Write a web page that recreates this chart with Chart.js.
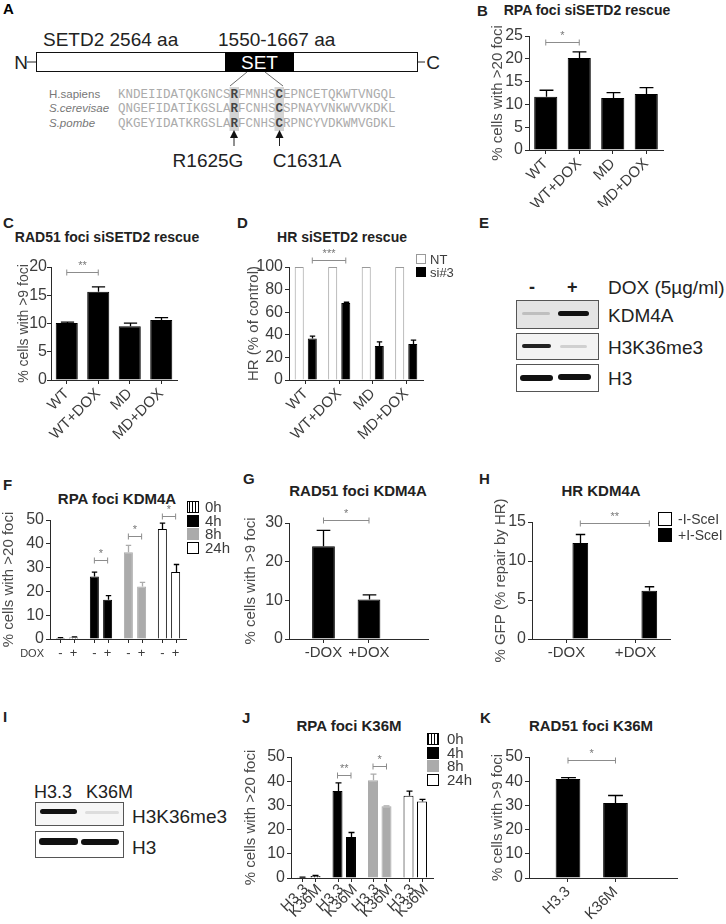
<!DOCTYPE html>
<html>
<head>
<meta charset="utf-8">
<script src="https://cdn.jsdelivr.net/npm/chart.js@4.4.1/dist/chart.umd.min.js"></script>
<style>
html, body { margin: 0; padding: 0; background: #fff; }
#fig { position: relative; width: 726px; height: 924px; overflow: hidden; font-family: "Liberation Sans", Arial, sans-serif; color: #222; }
.lbl { position: absolute; font-weight: bold; font-size: 15px; line-height: 1; transform: translateY(-50%); }
.ttl { position: absolute; font-weight: bold; font-size: 14px; line-height: 1; white-space: nowrap; transform: translate(-50%, -50%); }
.ttl.big { font-size: 15px; }
.txt { position: absolute; line-height: 1; white-space: nowrap; transform: translateY(-50%); font-size: 19px; color: #222; }
.blot { position: absolute; border: 1px solid #555; box-sizing: border-box; }
.band { position: absolute; border-radius: 3px; filter: blur(0.7px); }
canvas { position: absolute; }
</style>
</head>
<body>
<div id="fig">
  <!-- A: SETD2 schematic -->
  <svg width="460" height="180" style="position:absolute;left:0;top:0" font-family="Liberation Sans, Arial, sans-serif">
    <text x="3" y="14" font-size="15" font-weight="bold">A</text>
    <text x="43" y="46" font-size="19" fill="#222">SETD2 2564 aa</text>
    <text x="218" y="46" font-size="19" fill="#222">1550-1667 aa</text>
    <line x1="27" y1="62" x2="36" y2="62" stroke="#222"/>
    <line x1="417" y1="62" x2="425" y2="62" stroke="#222"/>
    <text x="21" y="69" font-size="19" text-anchor="middle" fill="#222">N</text>
    <text x="433" y="69" font-size="19" text-anchor="middle" fill="#222">C</text>
    <rect x="36.5" y="52.5" width="381" height="19" fill="#fff" stroke="#111"/>
    <rect x="225" y="52" width="69" height="20" fill="#000"/>
    <text x="259.5" y="69" font-size="19" text-anchor="middle" fill="#fff">SET</text>
    <line x1="247" y1="72" x2="230" y2="86" stroke="#444" stroke-width="0.8"/>
    <line x1="265" y1="72" x2="283" y2="86" stroke="#444" stroke-width="0.8"/>
    <rect x="229.5" y="87" width="9.5" height="44" fill="#d4d4d4"/>
    <rect x="274.5" y="87" width="9.5" height="44" fill="#d4d4d4"/>
    <text x="49" y="98" font-size="11.5" fill="#777">H.sapiens</text>
    <text x="49" y="112" font-size="11.5" fill="#777" font-style="italic">S.cerevisae</text>
    <text x="49" y="127" font-size="11.5" fill="#777" font-style="italic">S.pombe</text>
    <g font-family="Liberation Mono, DejaVu Sans Mono, monospace" font-size="12.5" fill="#ababab" xml:space="preserve">
      <text x="118" y="98">KNDEIIDATQKGNCS<tspan fill="#444" font-weight="bold">R</tspan>FMNHS<tspan fill="#444" font-weight="bold">C</tspan>EPNCETQKWTVNGQL</text>
      <text x="118" y="112">QNGEFIDATIKGSLA<tspan fill="#444" font-weight="bold">R</tspan>FCNHS<tspan fill="#444" font-weight="bold">C</tspan>SPNAYVNKWVVKDKL</text>
      <text x="118" y="127">QKGEYIDATKRGSLA<tspan fill="#444" font-weight="bold">R</tspan>FCNHS<tspan fill="#444" font-weight="bold">C</tspan>RPNCYVDKWMVGDKL</text>
    </g>
    <line x1="234" y1="137" x2="234" y2="146" stroke="#222" stroke-width="1"/>
    <polygon points="230,138 238,138 234,130" fill="#111"/>
    <line x1="279.5" y1="137" x2="279.5" y2="146" stroke="#222" stroke-width="1"/>
    <polygon points="275.5,138 283.5,138 279.5,130" fill="#111"/>
    <text x="208" y="167" font-size="19" text-anchor="middle" fill="#222">R1625G</text>
    <text x="307" y="167" font-size="19" text-anchor="middle" fill="#222">C1631A</text>
  </svg>

  <!-- panel letters -->
  <div class="lbl" style="left:477px;top:10px">B</div>
  <div class="lbl" style="left:3px;top:222px">C</div>
  <div class="lbl" style="left:237px;top:222px">D</div>
  <div class="lbl" style="left:479px;top:222px">E</div>
  <div class="lbl" style="left:3px;top:484px">F</div>
  <div class="lbl" style="left:243px;top:478px">G</div>
  <div class="lbl" style="left:479px;top:478px">H</div>
  <div class="lbl" style="left:3px;top:716px">I</div>
  <div class="lbl" style="left:242px;top:717px">J</div>
  <div class="lbl" style="left:480px;top:717px">K</div>

  <!-- chart titles -->
  <div class="ttl" style="left:587px;top:10px">RPA foci siSETD2 rescue</div>
  <div class="ttl" style="left:107px;top:237px">RAD51 foci siSETD2 rescue</div>
  <div class="ttl" style="left:342px;top:237px">HR siSETD2 rescue</div>
  <div class="ttl big" style="left:117px;top:498px">RPA foci KDM4A</div>
  <div class="ttl big" style="left:358px;top:490px">RAD51 foci KDM4A</div>
  <div class="ttl big" style="left:601px;top:490px">HR KDM4A</div>
  <div class="ttl big" style="left:349px;top:725px">RPA foci K36M</div>
  <div class="ttl big" style="left:591px;top:725px">RAD51 foci K36M</div>

  <!-- E: western blot -->
  <div class="txt" style="left:529px;top:287px;font-weight:bold;font-size:18px">-</div>
  <div class="txt" style="left:567px;top:287px;font-weight:bold;font-size:18px">+</div>
  <div class="txt" style="left:608px;top:287px">DOX (5µg/ml)</div>
  <div class="blot" style="left:516px;top:300px;width:83px;height:29px;background:#e4e4e4"></div>
  <div class="band" style="left:522px;top:312px;width:28px;height:3px;background:rgba(0,0,0,0.16)"></div>
  <div class="band" style="left:558px;top:311px;width:31px;height:5px;background:#111"></div>
  <div class="blot" style="left:516px;top:333px;width:83px;height:27px;background:#f3f3f3"></div>
  <div class="band" style="left:522px;top:344px;width:29px;height:4px;background:#222"></div>
  <div class="band" style="left:560px;top:345px;width:27px;height:3px;background:rgba(0,0,0,0.14)"></div>
  <div class="blot" style="left:516px;top:364px;width:83px;height:28px;background:#fff"></div>
  <div class="band" style="left:520px;top:375px;width:33px;height:6px;background:#111"></div>
  <div class="band" style="left:558px;top:374px;width:33px;height:6px;background:#111"></div>
  <div class="txt" style="left:608px;top:315px">KDM4A</div>
  <div class="txt" style="left:608px;top:347px">H3K36me3</div>
  <div class="txt" style="left:608px;top:378px">H3</div>

  <!-- I: western blot -->
  <div class="txt" style="left:34px;top:792px;font-size:18px">H3.3</div>
  <div class="txt" style="left:86px;top:792px;font-size:18px">K36M</div>
  <div class="blot" style="left:35px;top:802px;width:89px;height:24px;background:#f6f6f6"></div>
  <div class="band" style="left:40px;top:809px;width:37px;height:5px;background:#111"></div>
  <div class="band" style="left:85px;top:811px;width:34px;height:3px;background:rgba(0,0,0,0.1)"></div>
  <div class="blot" style="left:35px;top:831px;width:89px;height:27px;background:#fff"></div>
  <div class="band" style="left:39px;top:838px;width:39px;height:7px;background:#111"></div>
  <div class="band" style="left:81px;top:839px;width:38px;height:6px;background:#111"></div>
  <div class="txt" style="left:132px;top:816px">H3K36me3</div>
  <div class="txt" style="left:132px;top:847px">H3</div>
</div>

<script>
// ---- data ----
const setd2Groups = ['WT', 'WT+DOX', 'MD', 'MD+DOX'];
const rpaSetd2Mean = [11.7, 20.2, 11.4, 12.3];
const rpaSetd2Err = [1.4, 1.3, 1.2, 1.4];
const rad51Setd2Mean = [10.1, 15.6, 9.5, 10.6];
const rad51Setd2Err = [0.15, 0.9, 0.55, 0.45];
const hrSeries = ['NT', 'si#3'];
const hrNT = [100, 100, 100, 100];
const hrSi3 = [36.8, 68.2, 30.0, 31.8];
const hrSi3Err = [2.0, 0.6, 3.8, 3.5];

const timePoints = ['0h', '4h', '8h', '24h'];
const doxSigns = ['-', '+'];
const rpaKdmNoDox = [0.4, 26.3, 36.5, 46.2];
const rpaKdmNoDoxErr = [0.2, 1.8, 2.8, 2.5];
const rpaKdmDox = [0.6, 16.5, 22.1, 28.1];
const rpaKdmDoxErr = [0.3, 1.7, 1.7, 3.2];

const doxGroups = ['-DOX', '+DOX'];
const rad51KdmMean = [24.0, 10.2];
const rad51KdmErr = [4.1, 1.2];
const isceSeries = ['-I-SceI', '+I-SceI'];
const hrKdmNoSce = [0.05, 0.05];
const hrKdmSce = [12.3, 6.2];
const hrKdmSceErr = [1.1, 0.5];

const k36Lines = ['H3.3', 'K36M'];
const rpaK36H33 = [0.3, 36.0, 40.4, 34.0];
const rpaK36H33Err = [0.1, 3.3, 2.5, 1.9];
const rpaK36Mut = [0.8, 16.9, 29.6, 31.6];
const rpaK36MutErr = [0.3, 1.9, 0.2, 0.9];
const rad51K36Mean = [40.9, 31.0];
const rad51K36Err = [0.6, 3.1];

// ---- styles ----
const FONT = '"Liberation Sans", Arial, sans-serif';
const AXIS = '#2a2a2a';
const TEXT = '#3c3c3c';
const GREY = '#ababab';
Chart.defaults.font.family = FONT;
Chart.defaults.color = TEXT;
Chart.defaults.animation = false;

const stripeTile = document.createElement('canvas');
stripeTile.width = 3; stripeTile.height = 3;
(function () {
    const c = stripeTile.getContext('2d');
    c.fillStyle = '#fff'; c.fillRect(0, 0, 3, 3);
    c.fillStyle = '#000'; c.fillRect(0, 0, 1, 3);
})();
const stripes = stripeTile.getContext('2d').createPattern(stripeTile, 'repeat');
const timeFill = [stripes, '#000', GREY, '#fff'];
const timeStroke = ['#000', '#000', GREY, '#000'];

function pick(v, i) { return Array.isArray(v) ? v[i] : v; }

// ---- plugins ----
const errorBars = {
    id: 'errorBars',
    afterDatasetsDraw(chart) {
        const { ctx } = chart;
        const y = chart.scales.y;
        chart.data.datasets.forEach((ds, di) => {
            if (!ds.errors) return;
            chart.getDatasetMeta(di).data.forEach((bar, i) => {
                const err = ds.errors[i];
                if (!err) return;
                const d = ds.data[i];
                const v = typeof d === 'object' ? d.y : d;
                const top = y.getPixelForValue(v + err);
                const half = bar.width * 0.3;
                const x = Math.round(bar.x) + 0.5;
                ctx.save();
                ctx.strokeStyle = pick(ds.errorColor || '#000', i);
                ctx.lineWidth = 1.3;
                ctx.beginPath();
                ctx.moveTo(x, bar.y);
                ctx.lineTo(x, top);
                ctx.moveTo(x - half, top);
                ctx.lineTo(x + half, top);
                ctx.stroke();
                ctx.restore();
            });
        });
    }
};

function sigBrackets(list) {
    return {
        id: 'sigBrackets',
        afterDatasetsDraw(chart) {
            const { ctx } = chart;
            const y = chart.scales.y;
            ctx.save();
            ctx.strokeStyle = '#8c8c8c';
            ctx.fillStyle = '#777';
            ctx.lineWidth = 1;
            ctx.font = `11px ${FONT}`;
            ctx.textAlign = 'center';
            ctx.textBaseline = 'bottom';
            list.forEach((b) => {
                const x1 = chart.getDatasetMeta(b.from[0]).data[b.from[1]].x;
                const x2 = chart.getDatasetMeta(b.to[0]).data[b.to[1]].x;
                const py = Math.round(y.getPixelForValue(b.value)) + 0.5;
                ctx.beginPath();
                ctx.moveTo(x1, py - 3); ctx.lineTo(x1, py + 3);
                ctx.moveTo(x1, py); ctx.lineTo(x2, py);
                ctx.moveTo(x2, py - 3); ctx.lineTo(x2, py + 3);
                ctx.stroke();
                ctx.fillText(b.text, (x1 + x2) / 2, py - 1);
            });
            ctx.restore();
        }
    };
}

function boxLegend(box, spec) {
    return {
        id: 'boxLegend',
        afterDraw(chart) {
            const { ctx } = chart;
            ctx.save();
            ctx.font = `${spec.size}px ${FONT}`;
            ctx.textBaseline = 'middle';
            ctx.textAlign = 'left';
            spec.items.forEach((it, i) => {
                const cx = spec.x - box.left;
                const cy = spec.y - box.top + i * spec.row;
                const top = Math.round(cy - spec.box / 2);
                ctx.fillStyle = it.fill;
                ctx.fillRect(cx, top, spec.box, spec.box);
                ctx.strokeStyle = it.stroke;
                ctx.lineWidth = 1;
                ctx.strokeRect(cx + 0.5, top + 0.5, spec.box - 1, spec.box - 1);
                ctx.fillStyle = TEXT;
                ctx.fillText(it.text, spec.textX - box.left, cy + 1);
            });
            ctx.restore();
        }
    };
}

// tick and label under every single bar (F, J)
function perBarLabels(spec) {
    return {
        id: 'perBarLabels',
        afterDraw(chart) {
            const { ctx, chartArea } = chart;
            ctx.save();
            ctx.strokeStyle = AXIS;
            ctx.fillStyle = TEXT;
            ctx.lineWidth = 1;
            ctx.font = `${spec.size}px ${FONT}`;
            chart.data.datasets.forEach((ds, di) => {
                chart.getDatasetMeta(di).data.forEach((bar) => {
                    const x = Math.round(bar.x) + 0.5;
                    ctx.beginPath();
                    ctx.moveTo(x, chartArea.bottom);
                    ctx.lineTo(x, chartArea.bottom + 4);
                    ctx.stroke();
                    const text = spec.labels[di];
                    if (spec.rotate) {
                        ctx.save();
                        ctx.translate(bar.x + 4, chartArea.bottom + 9);
                        ctx.rotate(-Math.PI / 4);
                        ctx.textAlign = 'right';
                        ctx.textBaseline = 'middle';
                        ctx.fillText(text, 0, 0);
                        ctx.restore();
                    } else {
                        ctx.textAlign = 'center';
                        ctx.textBaseline = 'middle';
                        ctx.fillText(text, bar.x, chartArea.bottom + 14);
                    }
                });
            });
            if (spec.lead) {
                ctx.font = `${spec.leadSize}px ${FONT}`;
                ctx.textAlign = 'right';
                ctx.textBaseline = 'middle';
                ctx.fillText(spec.lead, chartArea.left - 6, chartArea.bottom + 15);
            }
            ctx.restore();
        }
    };
}

// ---- scales ----
function yScale(o) {
    return {
        min: 0,
        max: o.max,
        ticks: { stepSize: o.step, font: { size: 16 }, padding: o.tickPad === undefined ? 2 : o.tickPad },
        grid: { drawOnChartArea: false, tickLength: 4, color: AXIS },
        border: { color: AXIS },
        title: { display: true, text: o.title, font: { size: o.titleSize || 15 }, color: '#4a4a4a', padding: { top: o.titlePad || 0, bottom: 0 } },
        afterFit: (s) => { s.width = o.width; }
    };
}

function xCategory(o) {
    const show = o.ticks !== false;
    return {
        offset: true,
        grid: { drawOnChartArea: false, drawTicks: show, tickLength: 4, offset: false, color: AXIS },
        border: { color: AXIS },
        ticks: { display: show, autoSkip: false, minRotation: o.rot || 0, maxRotation: o.rot || 0, font: { size: 15 }, padding: 1 },
        afterFit: (s) => { s.height = o.height; }
    };
}

function xLinear(o) {
    return {
        type: 'linear',
        offset: false,
        min: o.min,
        max: o.max,
        afterBuildTicks: (s) => { s.ticks = o.labels.map((_, i) => ({ value: i + 1 })); },
        grid: { drawOnChartArea: false, tickLength: 4, offset: false, color: AXIS },
        border: { color: AXIS },
        ticks: {
            autoSkip: false, minRotation: o.rot || 0, maxRotation: o.rot || 0, font: { size: 15 }, padding: 1,
            callback: (v) => o.labels[Math.round(v) - 1] || ''
        },
        afterFit: (s) => { s.height = o.height; }
    };
}

function barChart(box, data, scales, extraPlugins) {
    const canvas = document.createElement('canvas');
    canvas.width = box.w;
    canvas.height = box.h;
    canvas.style.left = box.left + 'px';
    canvas.style.top = box.top + 'px';
    canvas.style.width = box.w + 'px';
    canvas.style.height = box.h + 'px';
    document.getElementById('fig').appendChild(canvas);
    return new Chart(canvas, {
        type: 'bar',
        data,
        options: {
            responsive: false,
            animation: false,
            devicePixelRatio: 1,
            layout: { padding: { top: box.padTop, right: box.padRight, left: 0, bottom: 0 } },
            scales,
            plugins: { legend: { display: false }, tooltip: { enabled: false } }
        },
        plugins: [errorBars].concat(extraPlugins || [])
    });
}

const blackBar = { backgroundColor: '#000', borderColor: '#000', borderWidth: 1, errorColor: '#000' };

// ---- B ----
const boxB = { left: 484, top: 18, w: 187, h: 189, padTop: 18, padRight: 8 };
barChart(boxB, {
    labels: setd2Groups,
    datasets: [Object.assign({ label: 'RPA', data: rpaSetd2Mean, errors: rpaSetd2Err, categoryPercentage: 1, barPercentage: 0.69 }, blackBar)]
}, {
    x: xCategory({ rot: 45, height: 57 }),
    y: yScale({ max: 25, step: 5, title: '% cells with >20 foci', width: 45, titlePad: 5 })
}, [sigBrackets([{ from: [0, 0], to: [0, 1], value: 23.7, text: '*' }])]);

// ---- C ----
const boxC = { left: 15, top: 250, w: 170, h: 190, padTop: 17, padRight: 8 };
barChart(boxC, {
    labels: setd2Groups,
    datasets: [Object.assign({ label: 'RAD51', data: rad51Setd2Mean, errors: rad51Setd2Err, categoryPercentage: 1, barPercentage: 0.7 }, blackBar)]
}, {
    x: xCategory({ rot: 45, height: 60 }),
    y: yScale({ max: 20, step: 5, title: '% cells with >9 foci', titleSize: 14, width: 36, titlePad: 1, tickPad: 0 })
}, [sigBrackets([{ from: [0, 0], to: [0, 1], value: 19.1, text: '**' }])]);

// ---- D ----
const boxD = { left: 244, top: 245, w: 216, h: 195, padTop: 22, padRight: 37 };
barChart(boxD, {
    labels: setd2Groups,
    datasets: [
        { label: hrSeries[0], data: hrNT, backgroundColor: '#fff', borderColor: '#9a9a9a', borderWidth: 1, categoryPercentage: 0.78, barPercentage: 0.69 },
        Object.assign({ label: hrSeries[1], data: hrSi3, errors: hrSi3Err, categoryPercentage: 0.78, barPercentage: 0.69 }, blackBar)
    ]
}, {
    x: xCategory({ rot: 45, height: 60 }),
    y: yScale({ max: 100, step: 20, title: 'HR (% of control)', width: 45, titlePad: 1 })
}, [
    sigBrackets([{ from: [1, 0], to: [1, 1], value: 106, text: '***' }]),
    boxLegend(boxD, {
        x: 416, y: 259, row: 13, box: 10, size: 13, textX: 430,
        items: hrSeries.map((t, i) => ({ text: t, fill: ['#fff', '#000'][i], stroke: ['#9a9a9a', '#000'][i] }))
    })
]);

// ---- F ----
const boxF = { left: 0, top: 500, w: 230, h: 165, padTop: 20, padRight: 44 };
barChart(boxF, {
    labels: timePoints,
    datasets: [
        { label: 'DOX-', data: rpaKdmNoDox, errors: rpaKdmNoDoxErr, backgroundColor: timeFill, borderColor: timeStroke, errorColor: timeStroke, borderWidth: 1, categoryPercentage: 0.78, barPercentage: 0.68 },
        { label: 'DOX+', data: rpaKdmDox, errors: rpaKdmDoxErr, backgroundColor: timeFill, borderColor: timeStroke, errorColor: timeStroke, borderWidth: 1, categoryPercentage: 0.78, barPercentage: 0.68 }
    ]
}, {
    x: xCategory({ ticks: false, height: 26 }),
    y: yScale({ max: 50, step: 10, title: '% cells with >20 foci', width: 50, titlePad: 0 })
}, [
    sigBrackets([
        { from: [0, 1], to: [1, 1], value: 33, text: '*' },
        { from: [0, 2], to: [1, 2], value: 43.1, text: '*' },
        { from: [0, 3], to: [1, 3], value: 51.6, text: '*' }
    ]),
    perBarLabels({ labels: doxSigns, size: 13, lead: 'DOX', leadSize: 11 }),
    boxLegend(boxF, {
        x: 187, y: 507, row: 13.5, box: 12, size: 15, textX: 205,
        items: timePoints.map((t, i) => ({ text: t, fill: timeFill[i], stroke: timeStroke[i] }))
    })
]);

// ---- G ----
const boxG = { left: 242, top: 505, w: 194, h: 158, padTop: 18, padRight: 8 };
barChart(boxG, {
    datasets: [Object.assign({
        label: 'RAD51', data: rad51KdmMean.map((v, i) => ({ x: i + 1, y: v })), errors: rad51KdmErr,
        categoryPercentage: 1, barPercentage: 0.5
    }, blackBar)]
}, {
    x: xLinear({ labels: doxGroups, min: 0.242, max: 3.297, height: 24 }),
    y: yScale({ max: 30, step: 10, title: '% cells with >9 foci', width: 47, titlePad: 0 })
}, [sigBrackets([{ from: [0, 0], to: [0, 1], value: 30.9, text: '*' }])]);

// ---- H ----
const boxH = { left: 492, top: 492, w: 234, h: 171, padTop: 30, padRight: 56 };
barChart(boxH, {
    labels: doxGroups,
    datasets: [
        { label: isceSeries[0], data: hrKdmNoSce, backgroundColor: '#fff', borderColor: '#000', borderWidth: 1, categoryPercentage: 0.8, barPercentage: 0.57 },
        Object.assign({ label: isceSeries[1], data: hrKdmSce, errors: hrKdmSceErr, categoryPercentage: 0.8, barPercentage: 0.57 }, blackBar)
    ]
}, {
    x: xCategory({ height: 24 }),
    y: yScale({ max: 15, step: 5, title: '% GFP (% repair by HR)', width: 40, titlePad: 0 })
}, [
    sigBrackets([{ from: [1, 0], to: [1, 1], value: 14.9, text: '**' }]),
    boxLegend(boxH, {
        x: 658, y: 519, row: 16, box: 14, size: 14, textX: 678,
        items: isceSeries.map((t, i) => ({ text: t, fill: ['#fff', '#000'][i], stroke: '#000' }))
    })
]);

// ---- J ----
const boxJ = { left: 242, top: 727, w: 230, h: 194, padTop: 30, padRight: 39 };
barChart(boxJ, {
    labels: timePoints,
    datasets: [
        { label: k36Lines[0], data: rpaK36H33, errors: rpaK36H33Err, backgroundColor: timeFill, borderColor: timeStroke, errorColor: timeStroke, borderWidth: 1, categoryPercentage: 0.76, barPercentage: 0.74 },
        { label: k36Lines[1], data: rpaK36Mut, errors: rpaK36MutErr, backgroundColor: timeFill, borderColor: timeStroke, errorColor: timeStroke, borderWidth: 1, categoryPercentage: 0.76, barPercentage: 0.74 }
    ]
}, {
    x: xCategory({ ticks: false, height: 43 }),
    y: yScale({ max: 50, step: 10, title: '% cells with >20 foci', width: 49, titlePad: 0 })
}, [
    sigBrackets([
        { from: [0, 1], to: [1, 1], value: 42.7, text: '**' },
        { from: [0, 2], to: [1, 2], value: 46.4, text: '*' }
    ]),
    perBarLabels({ labels: k36Lines, size: 15, rotate: true }),
    boxLegend(boxJ, {
        x: 427, y: 739, row: 13.5, box: 12, size: 15, textX: 447,
        items: timePoints.map((t, i) => ({ text: t, fill: timeFill[i], stroke: timeStroke[i] }))
    })
]);

// ---- K ----
const boxK = { left: 489, top: 740, w: 196, h: 181, padTop: 17, padRight: 8 };
barChart(boxK, {
    datasets: [Object.assign({
        label: 'RAD51', data: rad51K36Mean.map((v, i) => ({ x: i + 1, y: v })), errors: rad51K36Err,
        categoryPercentage: 1, barPercentage: 0.52
    }, blackBar)]
}, {
    x: xLinear({ labels: k36Lines, min: 0.179, max: 3.295, rot: 45, height: 43 }),
    y: yScale({ max: 50, step: 10, title: '% cells with >9 foci', width: 40, titlePad: 0 })
}, [sigBrackets([{ from: [0, 0], to: [0, 1], value: 48.6, text: '*' }])]);
</script>
</body>
</html>
